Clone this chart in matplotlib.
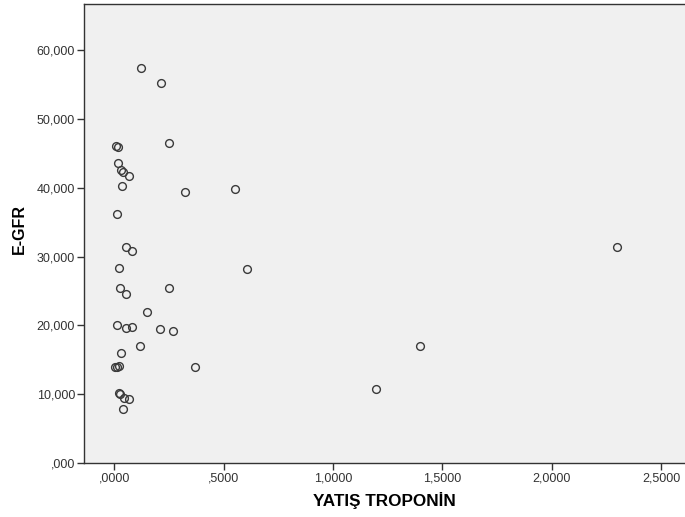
import matplotlib.pyplot as plt

plt.rcParams["font.family"] = ["Liberation Sans", "DejaVu Sans"]

# YATIŞ TROPONİN vs E-GFR
troponin = [0.122, 0.213, 0.007, 0.018, 0.248, 0.016, 0.029, 0.041, 0.068, 0.033,
            0.323, 0.550, 0.013, 0.055, 0.082, 0.022, 0.608, 0.024, 0.055, 0.251,
            0.149, 0.013, 0.053, 0.082, 0.209, 0.270, 0.116, 0.029, 0.004, 0.011,
            0.021, 0.369, 0.022, 0.025, 0.045, 0.068, 0.038, 1.197, 1.398, 2.299]
egfr = [57350, 55260, 46060, 45870, 46540, 43550, 42570, 42280, 41700, 40200,
        39420, 39860, 36220, 31340, 30760, 28290, 28140, 25430, 24560, 25430,
        21940, 20100, 19660, 19800, 19510, 19130, 17040, 15930, 13950, 13950,
        14090, 13950, 10170, 10080, 9400, 9340, 7850, 10710, 17000, 31380]

xticks = [0.0, 0.5, 1.0, 1.5, 2.0, 2.5]
xtick_labels = [",0000", ",5000", "1,0000", "1,5000", "2,0000", "2,5000"]
yticks = [0, 10000, 20000, 30000, 40000, 50000, 60000]
ytick_labels = [",000", "10,000", "20,000", "30,000", "40,000", "50,000", "60,000"]

fig = plt.figure(figsize=(6.85, 5.17), dpi=100)
ax = fig.add_axes([84 / 685, 1 - 463 / 517, 1 - 84 / 685, (463 - 4) / 517])
ax.set_facecolor("#f0f0f0")

ax.plot(troponin, egfr, linestyle="none", marker="o", ms=5.6,
        mfc="none", mec="#3a3a3a", mew=1.0)

ax.set_xlim(-0.139, 2.61)
ax.set_ylim(0, 66700)
ax.set_xticks(xticks)
ax.set_xticklabels(xtick_labels)
ax.set_yticks(yticks)
ax.set_yticklabels(ytick_labels)
ax.tick_params(direction="out", length=5, width=1, color="#333333",
               labelsize=9, labelcolor="#333333", pad=1.5)

for side in ["left", "bottom", "top"]:
    ax.spines[side].set_color("#333333")
    ax.spines[side].set_linewidth(1)
ax.spines["right"].set_visible(False)

ax.set_xlabel("YATIŞ TROPONİN", fontsize=12.3, fontweight="bold", labelpad=6)
ax.set_ylabel("E-GFR", fontsize=11.5, fontweight="bold")
ax.yaxis.set_label_coords(-0.095, 0.51)

fig.savefig("out.png", dpi=100)
